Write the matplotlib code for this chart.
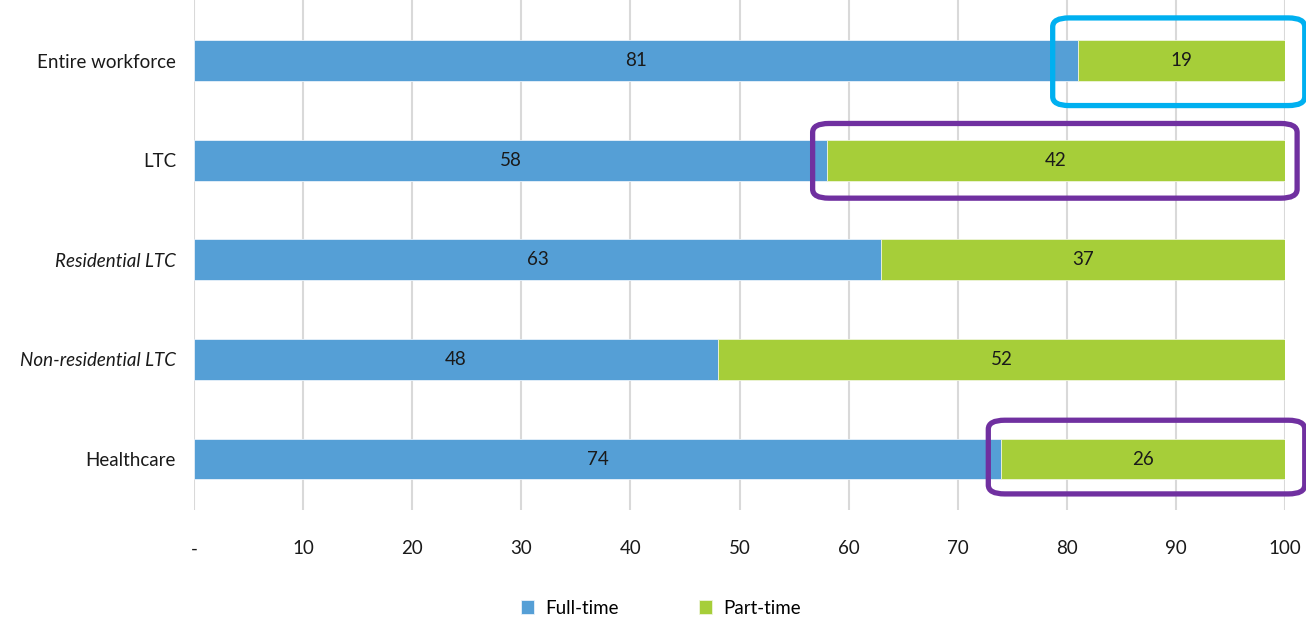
import numpy as np
import matplotlib
matplotlib.use('Agg')
import matplotlib.pyplot as plt
from matplotlib.patches import FancyBboxPatch

plt.rcParams['font.family'] = ['Lato', 'DejaVu Sans']

groups = ['Entire workforce', 'LTC', 'Residential LTC', 'Non-residential LTC', 'Healthcare']
italic_groups = ['Residential LTC', 'Non-residential LTC']
full_time = [81, 58, 63, 48, 74]
part_time = [19, 42, 37, 52, 26]
xticks = [0, 10, 20, 30, 40, 50, 60, 70, 80, 90, 100]
xtick_labels = ['-', '10', '20', '30', '40', '50', '60', '70', '80', '90', '100']

blue = '#559FD6'
green = '#A6CE39'

fig = plt.figure(figsize=(13.06, 6.18), dpi=100)
ax = fig.add_axes([0.1485, 0.175, 0.8355, 0.825])

y = np.arange(len(groups))
h = 0.41
b1 = ax.barh(y, full_time, height=h, color=blue, edgecolor='#E8F1FA', linewidth=0.6, label='Full-time', zorder=2)
b2 = ax.barh(y, part_time, left=full_time, height=h, color=green, edgecolor='#EEF5DA', linewidth=0.6, label='Part-time', zorder=2)

for bars in (b1, b2):
    for r in bars:
        ax.text(r.get_x() + r.get_width() / 2, r.get_y() + r.get_height() / 2,
                '%d' % round(r.get_width()), ha='center', va='center',
                fontsize=13.5, color='#1A1A1A', zorder=3)

ax.set_xlim(0, 100)
ax.set_ylim(4.51, -0.61)
ax.set_yticks(y)
ax.set_yticklabels(groups, fontsize=13.5, color='#1A1A1A')
for lab in ax.get_yticklabels():
    if lab.get_text() in italic_groups:
        lab.set_style('italic')
ax.set_xticks(xticks)
ax.set_xticklabels(xtick_labels, fontsize=13.5, color='#1A1A1A')
ax.tick_params(axis='x', length=0, pad=22)
ax.tick_params(axis='y', length=0, pad=13)
ax.grid(axis='x', color='#D9D9D9', linewidth=1.5, zorder=0)
for s in ax.spines.values():
    s.set_visible(False)

# highlight boxes around the part-time shares
boxes = [
    (78.7, -0.43, 23.1, 0.88, '#00B0F0'),
    (56.7, 0.63, 44.4, 0.75, '#7030A0'),
    (72.8, 3.61, 29.0, 0.74, '#7030A0'),
]
for x0, y0, w, hh, c in boxes:
    p = FancyBboxPatch((x0, y0), w, hh, boxstyle='round,pad=0,rounding_size=1.5',
                       mutation_aspect=0.06, fill=False, edgecolor=c,
                       linewidth=3.8, clip_on=False, zorder=4)
    ax.add_patch(p)

fig.legend(handles=[b1, b2], loc='center', bbox_to_anchor=(0.506, 0.016),
           ncol=2, frameon=False, fontsize=13.5, handlelength=0.7,
           handleheight=0.7, columnspacing=4.3, handletextpad=0.6)

fig.savefig('out.png', dpi=100)
